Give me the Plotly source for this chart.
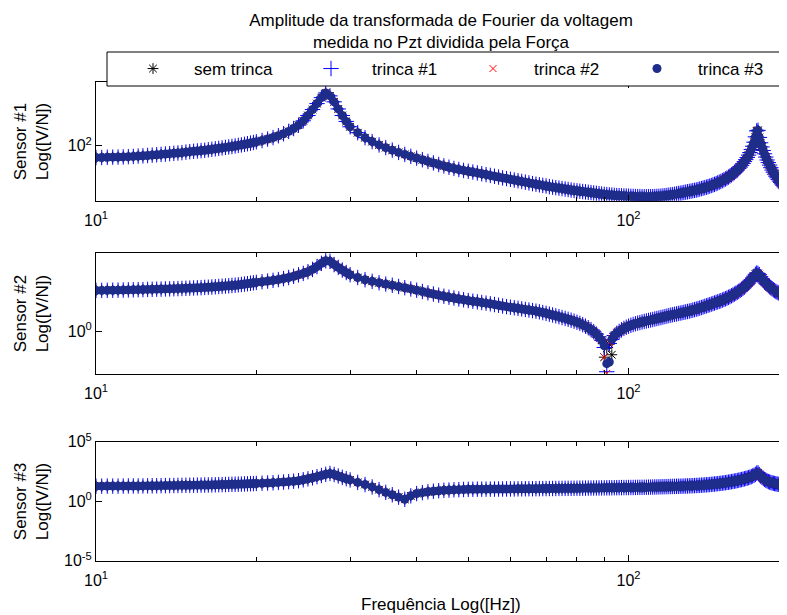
import numpy as np
import plotly.graph_objects as go

# ---------------- data ----------------
# frequency grid [Hz]: 0.25 Hz steps to 20 Hz, 0.5 Hz steps to 30 Hz, 1 Hz steps above
freq_hz = np.concatenate([np.arange(10.0, 20.01, 0.25),
                          np.arange(20.5, 30.01, 0.5),
                          np.arange(31.0, 198.0, 1.0)])

# Sensor #1, log10 of |V/F|
s1_log10 = [
    1.900, 1.901, 1.903, 1.904, 1.905, 1.906, 1.908, 1.910, 1.913, 1.915,   # 10 - 12.25
    1.918, 1.921, 1.924, 1.927, 1.930, 1.933, 1.936, 1.939, 1.942, 1.946,   # 12.5 - 14.75
    1.950, 1.953, 1.956, 1.959, 1.962, 1.966, 1.970, 1.974, 1.978, 1.982,   # 15 - 17.25
    1.986, 1.990, 1.994, 1.998, 2.003, 2.007, 2.012, 2.017, 2.022, 2.027,   # 17.5 - 19.75
    2.033,                                                                   # 20
    2.044, 2.056, 2.069, 2.084, 2.101, 2.121, 2.145, 2.173, 2.210, 2.255,   # 20.5 - 25
    2.305, 2.355, 2.405, 2.445, 2.420, 2.370, 2.310, 2.255, 2.205, 2.160,   # 25.5 - 30
    2.110, 2.068, 2.035, 2.007, 1.984, 1.963, 1.944, 1.927, 1.911, 1.896,   # 31 - 40
    1.882, 1.868, 1.855, 1.842, 1.830, 1.819, 1.809, 1.800, 1.792, 1.785,   # 41 - 50
    1.778, 1.771, 1.764, 1.757, 1.750, 1.743, 1.736, 1.729, 1.723, 1.717,   # 51 - 60
    1.711, 1.705, 1.699, 1.693, 1.687, 1.681, 1.676, 1.671, 1.666, 1.661,   # 61 - 70
    1.656, 1.651, 1.647, 1.643, 1.639, 1.635, 1.631, 1.627, 1.623, 1.620,   # 71 - 80
    1.617, 1.614, 1.611, 1.608, 1.605, 1.602, 1.599, 1.596, 1.593, 1.590,   # 81 - 90
    1.588, 1.586, 1.584, 1.582, 1.580, 1.579, 1.578, 1.577, 1.576, 1.575,   # 91 - 100
    1.574, 1.573, 1.572, 1.571, 1.571, 1.570, 1.570, 1.570, 1.570, 1.571,   # 101 - 110
    1.571, 1.572, 1.573, 1.574, 1.575, 1.577, 1.579, 1.581, 1.583, 1.586,   # 111 - 120
    1.588, 1.591, 1.594, 1.597, 1.600, 1.603, 1.606, 1.609, 1.612, 1.615,   # 121 - 130
    1.618, 1.621, 1.624, 1.627, 1.631, 1.635, 1.639, 1.643, 1.647, 1.651,   # 131 - 140
    1.655, 1.660, 1.665, 1.670, 1.675, 1.681, 1.687, 1.693, 1.699, 1.706,   # 141 - 150
    1.713, 1.720, 1.728, 1.736, 1.745, 1.754, 1.764, 1.774, 1.785, 1.796,   # 151 - 160
    1.808, 1.821, 1.835, 1.850, 1.866, 1.883, 1.901, 1.921, 1.943, 1.968,   # 161 - 170
    1.996, 2.030, 2.075, 2.125, 2.130, 2.070, 2.025, 1.990, 1.960, 1.932,   # 171 - 180
    1.905, 1.880, 1.858, 1.837, 1.815, 1.795, 1.777, 1.760, 1.744, 1.730,   # 181 - 190
    1.716, 1.703, 1.690, 1.678, 1.666, 1.654, 1.643,                        # 191 - 197
]

# Sensor #2, log10 of |V/F|
s2_log10 = [
    0.505, 0.506, 0.507, 0.508, 0.509, 0.510, 0.512, 0.513, 0.515, 0.516,
    0.518, 0.519, 0.521, 0.522, 0.524, 0.525, 0.527, 0.528, 0.530, 0.532,
    0.534, 0.536, 0.538, 0.540, 0.543, 0.545, 0.548, 0.551, 0.554, 0.557,
    0.560, 0.563, 0.567, 0.570, 0.574, 0.579, 0.584, 0.589, 0.594, 0.599,
    0.605,
    0.613, 0.621, 0.630, 0.640, 0.652, 0.665, 0.680, 0.698, 0.716, 0.737,
    0.765, 0.800, 0.840, 0.872, 0.865, 0.825, 0.790, 0.757, 0.727, 0.700,
    0.665, 0.638, 0.618, 0.600, 0.584, 0.569, 0.554, 0.539, 0.524, 0.508,
    0.492, 0.476, 0.461, 0.447, 0.434, 0.422, 0.411, 0.400, 0.390, 0.380,
    0.372, 0.364, 0.356, 0.348, 0.340, 0.331, 0.322, 0.313, 0.305, 0.298,
    0.291, 0.284, 0.277, 0.270, 0.263, 0.256, 0.249, 0.241, 0.231, 0.222,
    0.212, 0.202, 0.192, 0.181, 0.170, 0.159, 0.148, 0.137, 0.125, 0.112,
    0.098, 0.082, 0.064, 0.044, 0.021, -0.005, -0.035, -0.070, -0.110, -0.155,
    -0.170, -0.125, -0.085, -0.052, -0.025, -0.002, 0.018, 0.035, 0.050, 0.063,
    0.074, 0.084, 0.093, 0.101, 0.108, 0.115, 0.122, 0.128, 0.134, 0.140,
    0.146, 0.152, 0.158, 0.164, 0.170, 0.176, 0.182, 0.188, 0.194, 0.200,
    0.205, 0.210, 0.215, 0.220, 0.225, 0.230, 0.235, 0.240, 0.245, 0.250,
    0.256, 0.262, 0.268, 0.274, 0.280, 0.287, 0.294, 0.301, 0.308, 0.315,
    0.322, 0.329, 0.336, 0.343, 0.350, 0.357, 0.364, 0.371, 0.378, 0.386,
    0.394, 0.402, 0.411, 0.420, 0.429, 0.439, 0.449, 0.460, 0.471, 0.482,
    0.494, 0.506, 0.519, 0.533, 0.548, 0.564, 0.581, 0.599, 0.618, 0.638,
    0.659, 0.681, 0.705, 0.720, 0.715, 0.700, 0.675, 0.652, 0.631, 0.612,
    0.595, 0.579, 0.564, 0.550, 0.537, 0.525, 0.514, 0.503, 0.493, 0.484,
    0.475, 0.466, 0.458, 0.450, 0.442, 0.434, 0.427,
]

# Sensor #2 antiresonance (~90 Hz): where the four measurements separate
s2_dip_hz = [90, 91, 92, 93]
s2_dip_sem_trinca = [-0.32, -0.21, -0.16, -0.29]
s2_dip_trinca1 = [-0.20, -0.50, -0.15, -0.10]
s2_dip_trinca2 = [-0.32, -0.52, -0.14, -0.09]
s2_dip_trinca3 = [-0.18, -0.40, -0.38, -0.10]

# Sensor #3, log10 of |V/F|
s3_log10 = [
    1.26, 1.265, 1.27, 1.27, 1.27, 1.275, 1.28, 1.28, 1.28, 1.285,
    1.29, 1.295, 1.30, 1.305, 1.31, 1.315, 1.32, 1.325, 1.33, 1.335,
    1.34, 1.345, 1.35, 1.355, 1.36, 1.365, 1.37, 1.38, 1.39, 1.395,
    1.40, 1.41, 1.42, 1.425, 1.43, 1.44, 1.45, 1.46, 1.47, 1.48,
    1.49,
    1.51, 1.53, 1.55, 1.58, 1.61, 1.64, 1.68, 1.72, 1.80, 1.88,
    1.97, 2.06, 2.16, 2.26, 2.33, 2.24, 2.12, 2.00, 1.89, 1.79,
    1.58, 1.40, 1.20, 0.97, 0.74, 0.54, 0.34, 0.16, 0.45, 0.64,
    0.72, 0.79, 0.84, 0.88, 0.91, 0.935, 0.955, 0.97, 0.985, 1.00,
    1.004, 1.007, 1.010, 1.013, 1.016, 1.019, 1.022, 1.025, 1.028, 1.031,
    1.034, 1.037, 1.040, 1.043, 1.046, 1.049, 1.052, 1.055, 1.058, 1.061,
    1.064, 1.067, 1.070, 1.073, 1.076, 1.079, 1.082, 1.085, 1.088, 1.091,
    1.094, 1.097, 1.100, 1.103, 1.106, 1.109, 1.112, 1.115, 1.118, 1.121,
    1.124, 1.127, 1.130, 1.133, 1.136, 1.139, 1.142, 1.145, 1.147, 1.150,
    1.152, 1.155, 1.158, 1.161, 1.164, 1.167, 1.170, 1.175, 1.180, 1.185,
    1.190, 1.195, 1.200, 1.205, 1.210, 1.215, 1.220, 1.225, 1.230, 1.235,
    1.240, 1.245, 1.250, 1.255, 1.260, 1.265, 1.270, 1.276, 1.282, 1.288,
    1.295, 1.302, 1.310, 1.318, 1.327, 1.336, 1.346, 1.356, 1.367, 1.378,
    1.390, 1.402, 1.415, 1.428, 1.442, 1.456, 1.471, 1.487, 1.503, 1.520,
    1.538, 1.556, 1.575, 1.595, 1.616, 1.638, 1.661, 1.685, 1.710, 1.736,
    1.763, 1.791, 1.820, 1.850, 1.881, 1.913, 1.946, 1.980, 2.020, 2.070,
    2.120, 2.180, 2.250, 2.360, 2.380, 2.240, 2.110, 2.000, 1.910, 1.830,
    1.760, 1.700, 1.650, 1.610, 1.570, 1.540, 1.510, 1.480, 1.460, 1.440,
    1.420, 1.400, 1.380, 1.360, 1.340, 1.320, 1.300,
]

for arr in (s1_log10, s2_log10, s3_log10):
    assert len(arr) == len(freq_hz), (len(arr), len(freq_hz))

series_names = ["sem trinca", "trinca #1", "trinca #2", "trinca #3"]
sensor_labels = ["Sensor #1<br>Log([V/N])", "Sensor #2<br>Log([V/N])", "Sensor #3<br>Log([V/N])"]
title_text = "Amplitude da transformada de Fourier da voltagem<br>medida no Pzt dividida pela Força"
xlabel_text = "Frequência Log([Hz])"

# ---------------- layout geometry ----------------
# the page body adds an 8 px offset, so the figure is sized/placed to compensate
OFF = 8
W, H = 787 - OFF, 615 - OFF
L_S, R_S = 96, 786                      # plot-area left/right on screen
L, R = L_S - OFF, R_S - OFF             # in figure pixels

def sx(x_screen):
    """screen x -> paper x"""
    return (x_screen - OFF - L) / (R - L)

def sy(y_screen):
    """screen y -> paper y (top/bottom margins are 0)"""
    return 1 - (y_screen - OFF) / H

FONT = "Arial, 'Liberation Sans', Helvetica, sans-serif"
NAVY = "#1f2d8a"
styles = [
    dict(symbol="asterisk-open", size=9, color="black", line=dict(width=1, color="black")),
    dict(symbol="cross-thin-open", size=11, color="#0000ff", line=dict(width=1, color="#0000ff")),
    dict(symbol="x-thin-open", size=7, color="#ff0000", line=dict(width=1, color="#ff0000")),
    dict(symbol="circle", size=9, color=NAVY, line=dict(width=0)),
]
# plot-area boxes on screen (top, bottom)
boxes = [(82, 200.7), (252.7, 374), (441.7, 560.7)]
yranges = [[1.537, 2.537], [-0.528, 0.972], [-5, 5]]
ytickvals = [[100], [1], [1e5, 1, 1e-5]]
yticktext = [["10<sup>2</sup>"], ["10<sup>0</sup>"], ["10<sup>5</sup>", "10<sup>0</sup>", "10<sup>-5</sup>"]]

fig = go.Figure()

def series_values(sensor_idx, series_idx):
    base = [s1_log10, s2_log10, s3_log10][sensor_idx]
    vals = np.array(base, dtype=float)
    if sensor_idx == 1:
        dips = [s2_dip_sem_trinca, s2_dip_trinca1, s2_dip_trinca2, s2_dip_trinca3][series_idx]
        for f, v in zip(s2_dip_hz, dips):
            vals[np.argmin(np.abs(freq_hz - f))] = v
    return 10 ** vals

legend_ids = ["legend", "legend2", "legend3", "legend4"]
for si in range(3):
    ax = "" if si == 0 else str(si + 1)
    for k, name in enumerate(series_names):
        fig.add_trace(go.Scatter(
            x=freq_hz, y=series_values(si, k), mode="markers", name=name,
            marker=styles[k], xaxis="x" + ax, yaxis="y" + ax,
            showlegend=(si == 0), legend=legend_ids[k], hoverinfo="skip",
        ))

axis_common = dict(
    type="log", showgrid=False, zeroline=False, showline=True, linecolor="black",
    linewidth=1, mirror="ticks", ticks="inside", tickcolor="black", ticklen=6,
    tickfont=dict(family=FONT, size=16, color="black"),
)
layout = dict(
    width=W, height=H, margin=dict(l=L, r=W - R, t=0, b=0, autoexpand=False),
    paper_bgcolor="white", plot_bgcolor="white",
    font=dict(family=FONT, size=17, color="black"),
    title=dict(text=title_text, x=(441 - OFF) / W, xanchor="center", xref="container",
               y=1 - (26 - OFF) / H, yanchor="middle", yref="container",
               font=dict(family=FONT, size=17, color="black")),
)
for si in range(3):
    ax = "" if si == 0 else str(si + 1)
    top, bot = boxes[si]
    layout["xaxis" + ax] = dict(axis_common, domain=[0, 1], anchor="y" + ax,
                                range=[1, np.log10(197.5)],
                                tickmode="array", tickvals=[10, 100],
                                ticktext=["10<sup>1</sup>", "10<sup>2</sup>"],
                                ticklabelstandoff=5,
                                minor=dict(tickmode="array",
                                           tickvals=[20, 30, 40, 50, 60, 70, 80, 90],
                                           ticks="inside", ticklen=4, tickcolor="black"))
    layout["yaxis" + ax] = dict(axis_common, domain=[sy(bot), sy(top)], anchor="x" + ax,
                                range=yranges[si], tickmode="array",
                                tickvals=ytickvals[si], ticktext=yticktext[si])

# legends: one per series, placed inside a common box
legend_sym_px = [153, 331, 493, 657]
ITEMW = 72
for k, lid in enumerate(legend_ids):
    layout[lid] = dict(x=sx(legend_sym_px[k] - (ITEMW + 10) / 2), xanchor="left",
                       y=sy(69), yanchor="middle", bgcolor="rgba(0,0,0,0)",
                       borderwidth=0, itemwidth=ITEMW,
                       font=dict(family=FONT, size=17, color="black"))

fig.update_layout(**layout)

fig.add_shape(type="rect", xref="paper", yref="paper",
              x0=sx(107), x1=sx(785), y0=sy(86), y1=sy(52),
              fillcolor="white", line=dict(color="black", width=1), layer="above")

for si in range(3):
    top, bot = boxes[si]
    fig.add_annotation(text=sensor_labels[si], textangle=-90, showarrow=False,
                       xref="paper", yref="paper", x=sx(31),
                       y=sy((top + bot) / 2), xanchor="center", yanchor="middle",
                       font=dict(family=FONT, size=17, color="black"))
fig.add_annotation(text=xlabel_text, showarrow=False, xref="paper", yref="paper",
                   x=0.5, y=sy(604), xanchor="center", yanchor="middle",
                   font=dict(family=FONT, size=17, color="black"))

fig.write_html("out.html")
